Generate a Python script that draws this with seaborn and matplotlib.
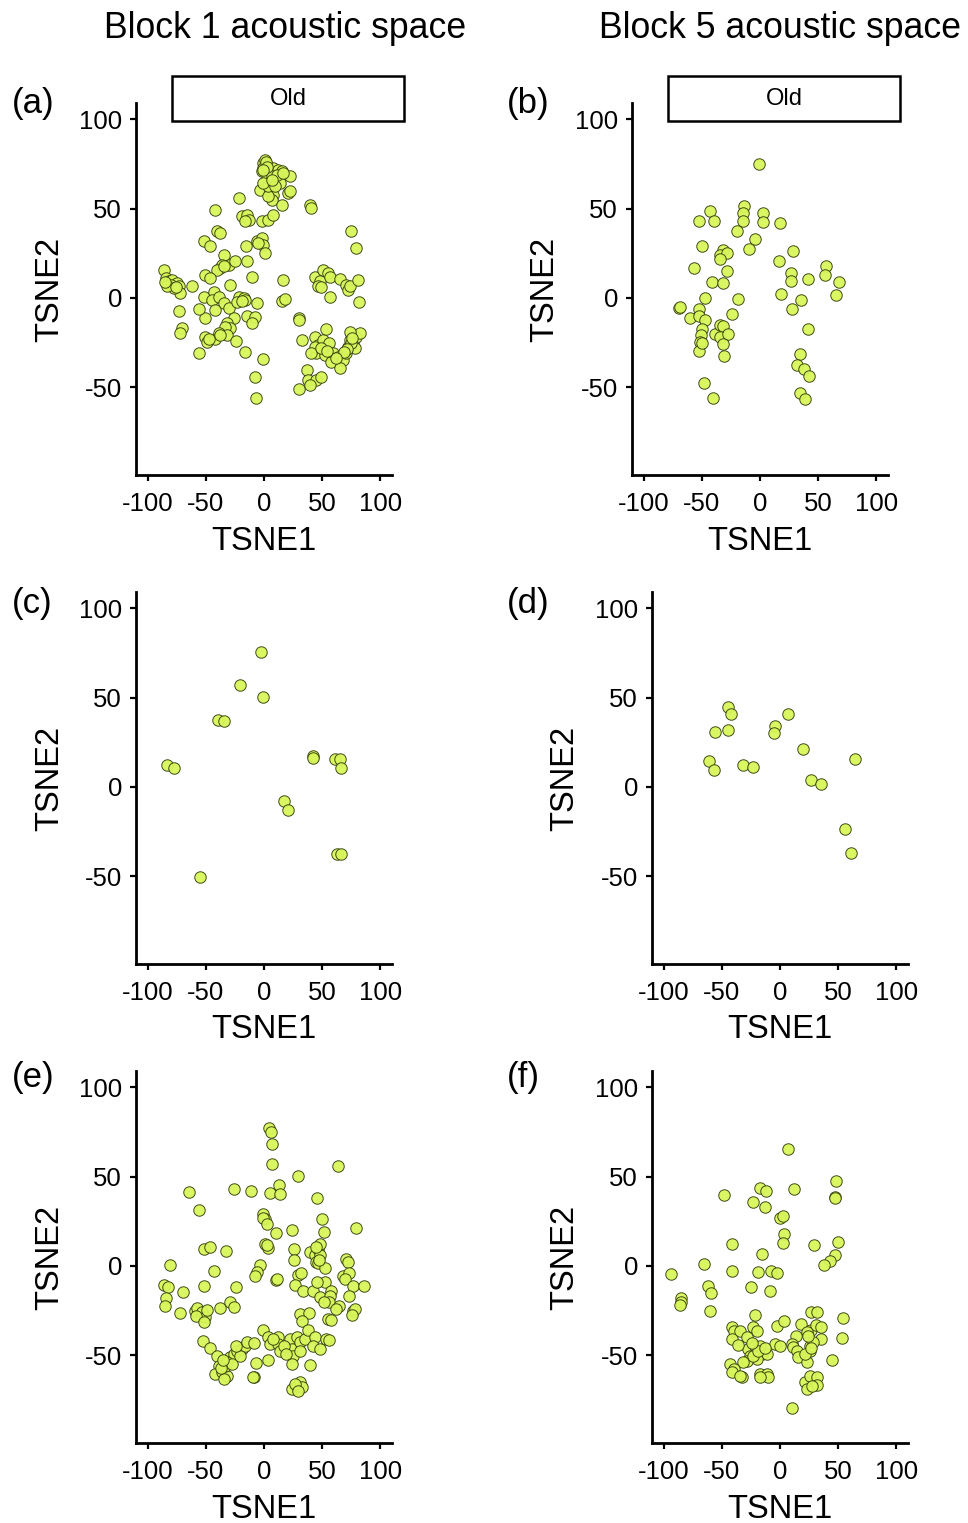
import numpy as np
import pandas as pd
import matplotlib
matplotlib.use("Agg")
import matplotlib.pyplot as plt
import seaborn as sns
from matplotlib.patches import Rectangle

# ---------------- data ----------------
a_x = [-0.5, 1.0, 2.4, -1.9, 5.2, 8.1, 12.3, 15.2, 22.3, 2.4, 6.6, 13.8, 20.9, 22.3, -3.4, 5.2, 8.1, 6.6, 3.8, -0.5,
       10.9, 16.6, 3.8, -0.5, 15.2, 9.5, -21.9, -41.8, 39.4, 40.8, -19.0, -14.7, -13.3, -16.2, -1.9, 3.8, 8.1, -40.4,
       -37.6, -51.8, -46.1, -6.2, -1.9, -0.5, 0.9, -4.8, -15.3, 75.0, 79.3, -34.7, -37.5, -36.1, -30.4, -24.7, -14.7,
       -40.4, -34.7, -50.4, -46.1, -10.5, 16.0, -29.0, -61.8, -86.0, -84.6, -81.7, -78.9, -74.6, -73.2, -72.3, -80.3,
       -77.4, -83.2, -73.2, -70.3, -72.3, -51.8, -43.3, -44.7, -39.0, -34.7, -41.8, -50.4, -56.1, -30.4, -26.2, -31.9,
       -29.0, -33.3, -21.9, -17.6, -16.2, -23.3, -6.2, -14.7, -7.6, -10.5, 15.2, 18.0, -50.4, -49.0, -41.8, -39.0,
       -31.9, -23.9, -56.1, -16.2, -0.5, -7.6, -6.8, 30.3, 30.0, 32.3, 43.7, 48.0, 50.8, 55.1, 56.5, 46.5, 49.4, 57.1,
       65.1, 70.8, 72.2, 73.6, 80.7, 81.3, 43.7, 46.5, 50.8, 56.0, 45.1, 52.2, 59.4, 63.6, 67.9, 72.2, 73.6, 76.4, 79.3,
       82.2, 73.6, 77.9, 70.8, 57.9, 65.1, 53.1, 43.7, 40.8, 36.6, 38.0, 45.1, 49.4, 30.3, 39.4,
       1.5, 3.0, -1.0, 7.0, 74.5, 76.0, 71.5, 68.5, 62.0, 49.0, 54.0, -85.0, -76.0, -47.0, -38.0, -18.5]
a_y = [75.4, 77.3, 74.5, 70.8, 69.8, 72.6, 71.7, 70.8, 68.0, 67.0, 68.0, 64.2, 58.6, 59.6, 60.5, 59.6, 57.7, 54.9,
       56.8, 72.6, 68.9, 69.8, 62.4, 64.2, 52.1, 62.4, 55.8, 49.3, 52.1, 50.2, 45.9, 46.5, 43.7, 42.8, 42.8, 43.7, 46.5,
       37.7, 36.2, 32.1, 28.8, 31.6, 33.4, 29.7, 25.0, 30.6, 28.8, 37.2, 27.8, 24.1, 16.6, 18.5, 18.5, 20.4, 20.9, 15.7,
       17.6, 12.9, 11.0, 11.6, 10.1, 7.3, 6.4, 15.7, 11.0, 9.2, 10.1, 8.2, 6.4, 2.6, 7.3, 5.4, 6.4, -7.1, -17.0, -19.8,
       0.8, 3.6, -1.1, 0.8, -3.0, -6.7, -11.4, -6.3, -5.8, -11.4, -14.2, -17.0, -16.1, 0.8, -0.2, -1.1, -2.1, -2.6,
       -10.1, -10.8, -14.2, -1.5, -0.4, -21.6, -24.5, -23.1, -19.8, -20.7, -23.9, -31.0, -30.1, -34.3, -44.1, -55.8,
       -11.4, -12.3, -23.5, 11.9, 9.2, 15.7, 13.8, 11.9, 6.4, 6.0, 0.8, 10.5, 7.3, 4.5, 6.4, 10.1, -2.1, -21.6, -26.3,
       -23.5, -25.4, -31.0, -31.9, -31.0, -32.9, -34.7, -27.3, -23.5, -25.4, -21.6, -19.8, -18.9, -28.2, -31.0, -35.7,
       -39.4, -17.5, -27.3, -31.0, -40.3, -45.9, -45.9, -44.1, -51.1, -48.7,
       76.0, 73.0, 71.5, 66.0, -25.0, -22.5, -28.5, -30.5, -33.5, -28.0, -29.5, 9.0, 6.0, -23.0, -21.0, -1.5]

b_x = [-0.6, -42.7, -52.7, -39.9, -13.7, -14.2, -14.8, 2.3, 2.3, 17.4, -19.9, -4.3, -9.1, -49.9, -31.9, -34.8, -28.5,
       -34.2, -56.4, -28.5, 28.5, 16.5, 26.5, 26.5, 41.3, 56.4, 55.6, 67.5, 65.0, 18.0, 35.6, 27.6, -41.3, -32.2, -47.6,
       -18.5, -69.8, -69.0, -60.4, -52.7, -52.7, -47.6, -24.2, -49.9, -50.7, -51.3, -52.7, -49.9, -39.0, -34.2, -31.4,
       -34.8, -27.1, -32.2, -30.8, 41.3, 34.2, 32.2, 37.6, 42.2, -47.9, -40.2, 34.2, 38.8]
b_y = [75.1, 48.7, 42.8, 42.8, 51.5, 47.4, 43.1, 47.4, 42.2, 41.8, 37.5, 33.0, 27.4, 29.3, 26.9, 24.1, 25.0, 21.7,
       17.0, 15.3, 26.3, 20.7, 13.8, 9.5, 10.5, 18.1, 12.7, 9.0, 1.7, 2.2, -1.1, -6.2, 8.8, 8.6, -0.0, -0.7, -5.8, -4.9,
       -11.0, -6.2, -10.1, -12.3, -9.0, -17.5, -20.7, -24.5, -29.5, -25.4, -20.2, -15.3, -15.7, -22.0, -20.2, -25.8,
       -32.5, -17.4, -31.4, -37.5, -39.9, -43.7, -47.4, -55.8, -53.4, -56.4]

c_x = [-2.5, -21.0, -0.5, -39.8, -34.1, -83.2, -77.5, 42.3, 42.3, 60.8, 65.6, 66.2, 17.5, 20.6, 62.8, 65.9, -54.7]
c_y = [75.3, 57.2, 50.3, 37.6, 37.0, 12.0, 10.7, 17.4, 16.1, 15.7, 15.7, 10.7, -8.0, -12.8, -37.5, -37.5, -50.5]

d_x = [-44.5, -42.2, -55.9, -45.0, 6.6, -4.3, -4.8, 20.0, -61.0, -56.7, -32.2, -22.8, 64.7, 26.8, 35.1, 56.1, 61.0]
d_y = [44.6, 40.9, 31.0, 31.7, 41.0, 33.8, 30.0, 21.4, 14.4, 9.7, 12.1, 11.2, 15.7, 4.1, 1.7, -23.4, -36.8]

e_x = [4.6, 5.8, 6.6, 6.6, 63.6, 29.1, -64.3, -25.6, -11.3, 5.2, 13.2, 13.8, 45.7, -56.1, -0.5, 0.9, -1.1, 2.4, 50.2,
       51.4, 79.3, 10.0, 23.7, 0.9, 3.8, 2.4, -51.8, -46.1, -32.4, 26.0, 26.0, 39.4, 43.7, 46.5, 48.0, 45.1, 46.5, 52.2,
       48.5, -80.9, -43.3, -3.4, -6.2, -7.6, 10.0, 10.9, 29.4, 31.4, 70.8, 72.2, 67.9, 73.0, 69.3, -86.0, -82.3, -84.6,
       -85.1, -69.5, -51.8, -24.4, 26.6, 33.1, 41.7, 48.0, 52.2, 57.9, 56.5, 55.6, 51.4, 45.7, 76.4, 85.9, 72.7, 64.5,
       62.2, 76.4, 77.9, 75.9, 55.1, 57.9, -71.8, -58.9, -57.5, -53.2, -50.4, -49.0, -58.1, -51.8, -38.1, -29.6, -26.2,
       30.9, 38.5, 32.3, -52.4, -46.1, -40.4, -39.0, -41.8, -36.1, -31.9, -33.3, -29.0, -26.2, -23.3, -19.0, -16.2,
       -14.7, -8.5, -31.9, -27.6, -20.5, -34.7, -6.8, 3.8, -8.5, -9.6, -1.1, 3.8, 12.3, 5.2, 12.3, 13.8, 22.3, 28.0,
       23.7, 25.2, 23.7, 30.9, 35.1, 37.4, 43.7, 41.7, 48.0, 53.7, 55.6, 39.4, 30.9, 23.7, 28.0, 30.9, 32.3, 26.6, 29.4,
       -37.0, -35.0, -24.0, 17.0, 8.0, 19.0, 45.0, 47.0]
e_y = [77.2, 74.9, 68.4, 56.8, 55.9, 50.3, 41.3, 42.8, 41.9, 41.0, 45.4, 40.4, 38.0, 31.1, 29.2, 26.4, 26.8, 23.6, 26.0,
       18.9, 21.2, 18.4, 19.9, 12.4, 10.0, 11.5, 9.6, 10.5, 8.3, 9.2, 3.6, 7.7, 5.9, 9.6, 5.9, 2.1, 1.7, -0.9, 12.4,
       0.3, -3.1, 0.3, -3.5, -5.4, -7.6, -7.2, -5.0, -3.9, 4.0, 2.1, -5.4, -3.9, -7.2, -10.4, -11.9, -17.9, -22.2, -14.7,
       -11.0, -11.9, -10.4, -14.1, -14.1, -17.5, -9.1, -13.8, -16.6, -19.9, -19.9, -9.1, -11.3, -11.3, -16.6, -22.2,
       -24.0, -25.0, -24.0, -27.4, -29.6, -30.0, -26.3, -25.0, -23.6, -25.9, -28.7, -24.6, -27.8, -31.5, -23.5, -19.9,
       -23.1, -26.8, -26.4, -30.6, -42.1, -46.0, -50.5, -55.8, -60.4, -59.5, -61.4, -55.8, -51.1, -49.2, -47.4, -46.4,
       -44.6, -42.7, -43.3, -53.9, -54.8, -50.2, -63.2, -54.3, -52.4, -62.3, -61.9, -35.8, -39.9, -39.9, -43.6, -43.6,
       -47.4, -40.8, -39.9, -46.4, -50.2, -54.8, -42.7, -40.8, -35.6, -39.9, -44.6, -46.4, -40.8, -41.2, -55.2, -47.4,
       -68.8, -67.0, -65.1, -67.9, -66.0, -69.8,
       -57.0, -52.5, -45.0, -44.5, -41.0, -49.0, 10.5, 3.5]

f_x = [6.6, 47.9, 47.0, 47.3, -48.5, -17.1, -12.0, 12.0, -23.4, -12.5, 0.0, 2.3, 3.4, 2.9, -41.0, -15.4, 28.8, 50.2,
       47.0, 43.3, 37.6, -65.6, -93.8, -41.0, -18.5, -8.0, -2.8, -62.1, -59.3, -24.8, -8.8, -85.5, -85.5, -86.1, -59.9,
       -21.1, 26.8, 32.2, 53.9, 53.3, 44.7, -41.3, -39.9, -34.2, -28.5, -22.8, -20.0, -41.3, -2.3, 3.4, 18.0, 26.8,
       30.8, 35.6, 35.6, 22.8, 13.7, 10.0, -27.1, -25.6, -21.4, -17.1, -15.7, -11.4, -20.0, -28.5, -22.8, -18.5, -4.3,
       0.0, -31.4, -43.3, -39.9, -41.3, -32.8, -34.2, -17.1, -11.4, -10.0, -17.1, 11.4, 14.3, 15.7, 22.8, 25.7, 25.7,
       28.5, 21.4, 21.4, 25.7, 31.4, 31.4, 22.8, 27.1, 10.5,
       -24.0, -13.0, 24.0, 27.0, -36.0]
f_y = [65.6, 47.7, 38.5, 38.0, 39.5, 43.6, 41.9, 43.0, 35.7, 33.1, 27.0, 27.9, 17.8, 12.8, 12.4, 6.8, 11.6, 13.3, 5.9,
       2.7, 0.6, 1.2, -4.6, -2.9, -3.5, -3.1, -3.9, -11.0, -15.1, -11.7, -13.9, -18.0, -20.3, -21.8, -25.0, -27.7,
       -25.5, -25.9, -29.2, -40.4, -52.4, -33.9, -36.2, -36.2, -39.9, -34.3, -36.2, -40.8, -33.4, -30.7, -32.4, -35.6,
       -33.0, -34.3, -40.8, -37.1, -39.3, -43.6, -46.4, -50.2, -44.6, -44.6, -49.2, -49.2, -52.0, -53.0, -50.2, -47.4,
       -43.6, -44.6, -53.9, -54.8, -57.6, -59.5, -62.3, -61.4, -60.4, -60.4, -62.3, -62.3, -45.5, -47.4, -51.1, -53.9,
       -47.4, -44.6, -42.7, -49.2, -65.1, -61.4, -62.3, -66.6, -68.8, -67.0, -79.6,
       -43.0, -46.0, -39.0, -46.0, -44.0]

col_titles = ["Block 1 acoustic space", "Block 5 acoustic space"]
panel_tags = ["(a)", "(b)", "(c)", "(d)", "(e)", "(f)"]
strip_label = "Old"
tick_vals = [-100, -50, 0, 50, 100]
y_tick_vals = [-50, 0, 50, 100]

panels = [(a_x, a_y), (b_x, b_y), (c_x, c_y), (d_x, d_y), (e_x, e_y), (f_x, f_y)]

# ---------------- style ----------------
sns.set_style("ticks")
plt.rcParams["font.family"] = ["Liberation Sans", "DejaVu Sans"]
plt.rcParams["text.color"] = "black"
plt.rcParams["axes.labelcolor"] = "black"
plt.rcParams["xtick.color"] = "black"
plt.rcParams["ytick.color"] = "black"

W, H = 968, 1523
fig = plt.figure(figsize=(W / 100, H / 100), dpi=100)

# axes pixel boxes: left, right, top, bottom
boxes = [(136, 392, 103, 475), (632, 888, 103, 475),
         (136, 392, 592, 964), (652, 908, 592, 964),
         (136, 392, 1071, 1443), (652, 908, 1071, 1443)]
ylabel_x = [50, 545, 50, 565, 50, 565]
tag_pos = [(12, 104), (507, 104), (12, 604), (507, 604), (12, 1078), (507, 1078)]

fill = "#D8F65A"
edge = "#36420E"

for i, ((xs, ys), (l, r, t, b)) in enumerate(zip(panels, boxes)):
    ax = fig.add_axes([l / W, 1 - b / H, (r - l) / W, (b - t) / H])
    df = pd.DataFrame({"TSNE1": xs, "TSNE2": ys})
    sns.scatterplot(data=df, x="TSNE1", y="TSNE2", ax=ax, s=68, color=fill,
                    edgecolor=edge, linewidth=0.7, alpha=0.95, zorder=3)
    ax.set_xlim(-110, 110)
    ax.set_ylim(-99, 109)
    ax.set_xticks(tick_vals)
    ax.set_yticks(y_tick_vals)
    ax.set_xticklabels([str(v) for v in tick_vals])
    ax.set_yticklabels([str(v) for v in y_tick_vals])
    sns.despine(ax=ax)
    for s in ["left", "bottom"]:
        ax.spines[s].set_linewidth(2.0)
        ax.spines[s].set_color("black")
    ax.tick_params(axis="both", length=4, width=1.6, labelsize=18.5, colors="black", pad=6)
    ax.tick_params(axis="x", pad=8)
    ax.set_xlabel("TSNE1", fontsize=23.5)
    ax.set_ylabel("TSNE2", fontsize=23.5)
    ax.xaxis.set_label_coords(0.5, -66 / (b - t))
    ax.xaxis.label.set_va("center")
    ax.yaxis.set_label_coords(-(l - ylabel_x[i]) / (r - l), 0.5)
    ax.yaxis.label.set_va("center")
    fig.text(tag_pos[i][0] / W, 1 - tag_pos[i][1] / H, panel_tags[i], fontsize=25,
             ha="left", va="center")

# strips on top row
for (sl, sr) in [(172, 404), (668, 900)]:
    rect = Rectangle((sl / W, 1 - 121 / H), (sr - sl) / W, 45 / H, transform=fig.transFigure,
                     facecolor="white", edgecolor="black", linewidth=1.8)
    fig.patches.append(rect)
    fig.text((sl + sr) / 2 / W, 1 - 99 / H, strip_label, fontsize=17, ha="center", va="center")

# column titles
fig.text(285 / W, 1 - 29 / H, col_titles[0], fontsize=25.7, ha="center", va="center")
fig.text(780 / W, 1 - 29 / H, col_titles[1], fontsize=25.7, ha="center", va="center")

fig.savefig("out.png", dpi=100, facecolor="white")
